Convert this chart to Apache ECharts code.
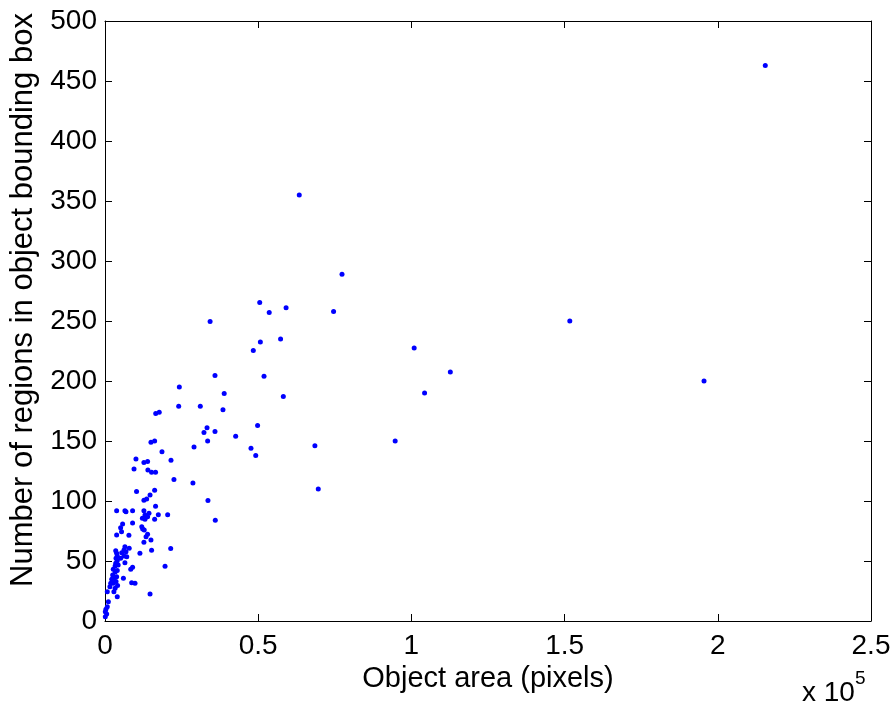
<!DOCTYPE html>
<html>
<head>
<meta charset="utf-8">
<title>Regions vs object area</title>
<script src="https://cdn.jsdelivr.net/npm/echarts@6/dist/echarts.min.js"></script>
<style>
  html, body { margin: 0; padding: 0; background: #fff; }
  #chart { width: 896px; height: 709px; }
</style>
</head>
<body>
<div id="chart"></div>
<script>
// Object area, in units of 1e5 pixels
const areaE5 = [
  2.155, 1.955, 1.517, 1.127, 1.043, 1.009, 0.947, 0.7735, 0.746, 0.696,
  0.685, 0.634, 0.591, 0.582, 0.573, 0.536, 0.519, 0.507, 0.505, 0.498,
  0.492, 0.484, 0.4765, 0.4265, 0.389, 0.385, 0.36, 0.359, 0.359, 0.343,
  0.336, 0.335, 0.333, 0.323, 0.311, 0.2905, 0.287, 0.2426, 0.2405, 0.225,
  0.2154, 0.2144, 0.2045, 0.196, 0.186, 0.177, 0.1655, 0.174, 0.165, 0.165,
  0.162, 0.162, 0.162, 0.152, 0.152, 0.150, 0.150, 0.147, 0.147, 0.1436,
  0.140, 0.139, 0.139, 0.139, 0.136, 0.134, 0.1305, 0.1305, 0.128, 0.127,
  0.127, 0.127, 0.127, 0.123, 0.122, 0.120, 0.114, 0.103, 0.101, 0.098,
  0.0947, 0.090, 0.090, 0.090, 0.087, 0.084, 0.079, 0.078, 0.0685, 0.0685,
  0.071, 0.065, 0.065, 0.065, 0.062, 0.062, 0.060, 0.0575, 0.054, 0.0545,
  0.051, 0.051, 0.038, 0.038,
  0.035, 0.038, 0.040, 0.036, 0.040, 0.035, 0.033, 0.043, 0.027, 0.033,
  0.025, 0.038, 0.029, 0.022, 0.027, 0.0186, 0.016, 0.033, 0.029, 0.040,
  0.0075, 0.011, 0.0075, 0.003, 0.001, 0.0055, 0.001, 0.040, 0.036, 0.041
];

// Number of regions in the object's bounding box
const regionCount = [
  463, 200, 250, 207.5, 190, 227.5, 150, 289, 258, 110,
  146, 355, 261, 187, 235, 257, 204, 232.5, 265.5, 163,
  138, 225.5, 144, 154, 189.5, 176, 84, 204.5, 158, 249.5,
  100.5, 150, 161, 157, 179, 145, 115, 195, 179, 118,
  134, 60.5, 88.6, 45.6, 141, 174, 173, 88.6, 124, 95.6,
  150, 108.9, 84.7, 124, 59, 149, 67.5, 105, 22.5, 89.7,
  125.8, 133, 86.9, 72.2, 101.7, 70.3, 88.3, 84.7, 75.8, 132,
  100.6, 91.9, 65.6, 76.7, 85.6, 78.6, 56.4, 108, 135, 31.4,
  126.7, 91.9, 81.7, 44.7, 31.9, 43.1, 60.6, 71.4, 91, 57.8,
  53.6, 91.9, 61.9, 48.6, 59.2, 54.2, 35.6, 80.8, 74.4, 56.9,
  77.8, 52.2, 91.9, 71.7,
  58.6, 56.4, 54.2, 52.2, 50.3, 48.1, 45.8, 46.7, 43.1, 40.8,
  38.3, 36.9, 35.6, 34.7, 31.4, 31.4, 28.6, 27.2, 24.4, 20.3,
  24.4, 16.1, 11.9, 9.7, 7.8, 5.8, 3.6, 42, 33, 29.5
];

const xTicks = [0, 0.5, 1, 1.5, 2, 2.5];
const yTicks = [0, 50, 100, 150, 200, 250, 300, 350, 400, 450, 500];

const points = areaE5.map((a, i) => [a, regionCount[i]]);

const FONT = '"Liberation Sans", Arial, Helvetica, sans-serif';
const FS = 28;
const chart = echarts.init(document.getElementById('chart'), null, { renderer: 'canvas' });

// Inward ticks on all four sides of the box
const tickStyle = { show: true, inside: true, length: 7, lineStyle: { color: '#000', width: 1 } };
const lineStyle = { show: true, onZero: false, lineStyle: { color: '#000', width: 1 } };

chart.setOption({
  backgroundColor: '#fff',
  animation: false,
  grid: { left: 105, right: 25, top: 21, bottom: 88, containLabel: false },
  xAxis: [
    {
      type: 'value', position: 'bottom',
      min: xTicks[0], max: xTicks[xTicks.length - 1], interval: 0.5,
      name: 'Object area (pixels)', nameLocation: 'middle', nameGap: 34,
      nameTextStyle: { fontFamily: FONT, fontSize: 29, color: '#000' },
      axisLine: lineStyle, axisTick: tickStyle, splitLine: { show: false },
      axisLabel: { fontFamily: FONT, fontSize: FS, color: '#000', margin: 11,
        formatter: v => String(v) }
    },
    {
      type: 'value', position: 'top',
      min: xTicks[0], max: xTicks[xTicks.length - 1], interval: 0.5,
      axisLine: lineStyle, axisTick: tickStyle, axisLabel: { show: false }, splitLine: { show: false }
    }
  ],
  yAxis: [
    {
      type: 'value', position: 'left',
      min: yTicks[0], max: yTicks[yTicks.length - 1], interval: 50,
      name: 'Number of regions in object bounding box', nameLocation: 'middle', nameGap: 64,
      nameTextStyle: { fontFamily: FONT, fontSize: 31, color: '#000', padding: [0, 0, 0, 42] },
      axisLine: lineStyle, axisTick: tickStyle, splitLine: { show: false },
      axisLabel: { fontFamily: FONT, fontSize: FS, color: '#000', margin: 8 }
    },
    {
      type: 'value', position: 'right',
      min: yTicks[0], max: yTicks[yTicks.length - 1], interval: 50,
      axisLine: lineStyle, axisTick: tickStyle, axisLabel: { show: false }, splitLine: { show: false }
    }
  ],
  graphic: [
    { type: 'text', left: 802, top: 679,
      style: { text: 'x 10', font: FS + 'px ' + FONT, fill: '#000' } },
    { type: 'text', left: 855, top: 669,
      style: { text: '5', font: '19px ' + FONT, fill: '#000' } }
  ],
  series: [{
    type: 'scatter',
    xAxisIndex: 0, yAxisIndex: 0,
    data: points,
    symbol: 'circle',
    symbolSize: 5,
    itemStyle: { color: '#0000ff', opacity: 1 }
  }]
});
</script>
</body>
</html>
